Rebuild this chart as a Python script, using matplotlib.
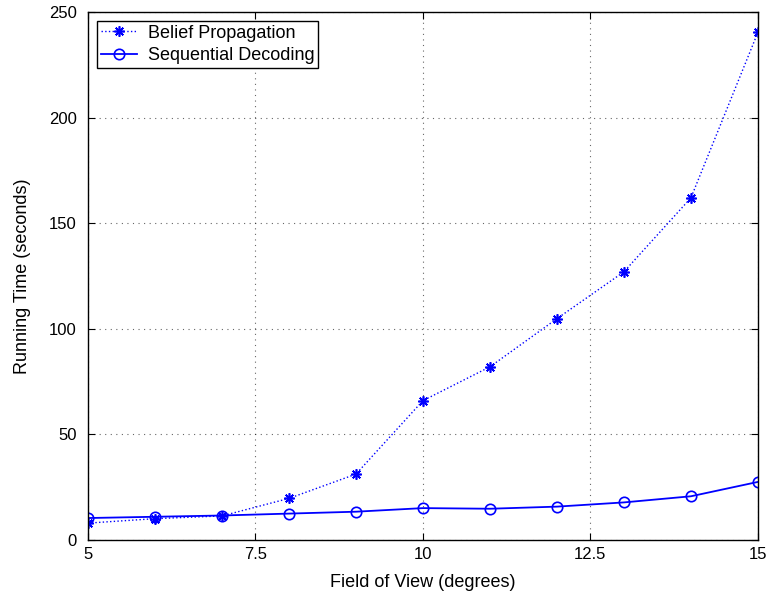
import matplotlib
matplotlib.use("Agg")
import matplotlib.pyplot as plt

plt.rcParams['font.family'] = ['Liberation Sans', 'DejaVu Sans']

fov = [5, 6, 7, 8, 9, 10, 11, 12, 13, 14, 15]
belief_prop = [8.0, 10.1, 11.4, 19.7, 31.2, 66.0, 82.0, 104.8, 127.0, 162.0, 240.4]
seq_decoding = [10.4, 11.0, 11.6, 12.5, 13.4, 15.1, 14.8, 15.8, 17.8, 20.7, 27.5]
xticks = [5, 7.5, 10, 12.5, 15]
xtick_labels = ['5', '7.5', '10', '12.5', '15']
yticks = [0, 50, 100, 150, 200, 250]

fig = plt.figure(figsize=(7.7, 6.01), dpi=100)
ax = fig.add_axes([0.1143, 0.1015, 0.870, 0.8785])

# asterisk marker like matlab '*'
ax.plot(fov, belief_prop, color='blue', linestyle=':', linewidth=1, marker=(8, 2, 0),
        markersize=7.5, markeredgewidth=1.2, label='Belief Propagation')
ax.plot(fov, seq_decoding, color='blue', linestyle='-', linewidth=1.3, marker='o',
        markersize=7.5, markerfacecolor='none', markeredgewidth=1.2, label='Sequential Decoding')

ax.set_xlim(5, 15)
ax.set_ylim(0, 250)
ax.set_xticks(xticks)
ax.set_xticklabels(xtick_labels)
ax.set_yticks(yticks)
ax.tick_params(direction='in', top=True, right=True, labelsize=12, length=5)
ax.tick_params(axis='x', pad=5)
ax.tick_params(axis='y', pad=8)
ax.grid(True, linestyle=(0, (1, 4)), color='black', linewidth=0.8, alpha=0.6)
for sp in ax.spines.values():
    sp.set_linewidth(1.0)

ax.set_xlabel('Field of View (degrees)', fontsize=13, labelpad=9)
ax.set_ylabel('Running Time (seconds)', fontsize=13, labelpad=13)

leg = ax.legend(loc='upper left', fontsize=13, fancybox=False, framealpha=1,
                edgecolor='black', borderaxespad=0.5, handlelength=2.0,
                borderpad=0.2, labelspacing=0.3, handletextpad=0.6)
leg.get_frame().set_linewidth(1.0)

fig.savefig('out.png', dpi=100)
